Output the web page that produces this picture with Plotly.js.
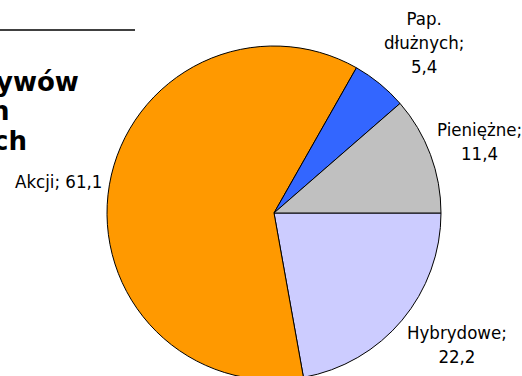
<!DOCTYPE html>
<html>
<head>
<meta charset="utf-8">
<script src="https://cdn.plot.ly/plotly-3.0.1.min.js"></script>
<style>
html,body{margin:0;padding:0;overflow:hidden;background:#fff;}
#chart{width:522px;height:380px;}
</style>
</head>
<body>
<div id="chart"></div>
<script>
// Data (clockwise from 3 o'clock)
const categories = ["Hybrydowe", "Akcji", "Pap. dłużnych", "Pieniężne"];
const labelLines = ["Hybrydowe;", "Akcji;", "Pap.<br>dłużnych;", "Pieniężne;"];
const values = [22.2, 61.1, 5.4, 11.4];
const colors = ["#CCCCFF", "#FF9900", "#3366FF", "#C0C0C0"];
const titleFragments = ["ywów", "h", "ch"];

const W = 522, H = 380;
const fmt = v => v.toFixed(1).replace('.', ',');
const texts = values.map((v, i) => categories[i] === "Akcji" ? labelLines[i] + " " + fmt(v) : labelLines[i] + "<br>" + fmt(v));

const FS = 18.5;
const labelFont = {family: "DejaVu Sans Condensed, DejaVu Sans, sans-serif", size: FS, color: "#000"};

// pie domain (pixels)
const dom = {x0: 107, x1: 441, top: 46, bottom: H};
const trace = {
  type: "pie",
  labels: categories,
  values: values,
  textinfo: "none",
  sort: false,
  direction: "clockwise",
  rotation: 90,
  marker: {colors: colors, line: {color: "#000", width: 1}},
  domain: {x: [dom.x0 / W, dom.x1 / W], y: [0, (H - dom.top) / H]},
  hoverinfo: "none",
  showlegend: false
};

// label placement derived from slice angles
const cx = (dom.x0 + dom.x1) / 2;
const rad = Math.min(dom.x1 - dom.x0, dom.bottom - dom.top) / 2;
const cy = dom.top + rad;
const total = values.reduce((a, b) => a + b, 0);
let cum = 0;
const labelAnns = values.map((v, i) => {
  const mid = -(cum + v / 2) / total * 2 * Math.PI; // clockwise from 3 o'clock
  cum += v;
  const R = rad + 7;
  const px = cx + R * Math.cos(mid);
  const py = cy - R * Math.sin(mid);
  const nLines = texts[i].split("<br>").length;
  const h = nLines * 1.3 * FS;
  const fy = Math.min(1, Math.max(0, 0.5 + 0.65 * Math.sin(mid)));
  const yc = py + h * (0.5 - fy);
  return {
    text: texts[i],
    xref: "paper", yref: "paper",
    x: px / W, y: 1 - yc / H,
    xanchor: Math.cos(mid) >= 0 ? "left" : "right",
    yanchor: "middle",
    align: "center",
    showarrow: false,
    borderpad: 0, borderwidth: 0,
    font: labelFont
  };
});

const titleFont = {family: "DejaVu Sans, sans-serif", size: 26, color: "#000", weight: "bold"};
const titleRight = [81, 12, 29];
const titleCenters = [82, 111, 141];
const titleAnns = titleFragments.map((t, i) => ({
  text: "<b>" + t + "</b>",
  xref: "paper", yref: "paper",
  x: titleRight[i] / W, y: 1 - titleCenters[i] / H,
  xanchor: "right", yanchor: "middle",
  showarrow: false,
  font: titleFont
}));

const layout = {
  width: W, height: H,
  margin: {l: 0, r: 0, t: 0, b: 0},
  paper_bgcolor: "#fff",
  separators: ",.",
  annotations: titleAnns.concat(labelAnns),
  shapes: [{type: "line", xref: "paper", yref: "paper", x0: 0, x1: 135 / W, y0: 1 - 30 / H, y1: 1 - 30 / H, line: {color: "#000", width: 1.5}}]
};

Plotly.newPlot("chart", [trace], layout, {displayModeBar: false, staticPlot: true});
</script>
</body>
</html>
